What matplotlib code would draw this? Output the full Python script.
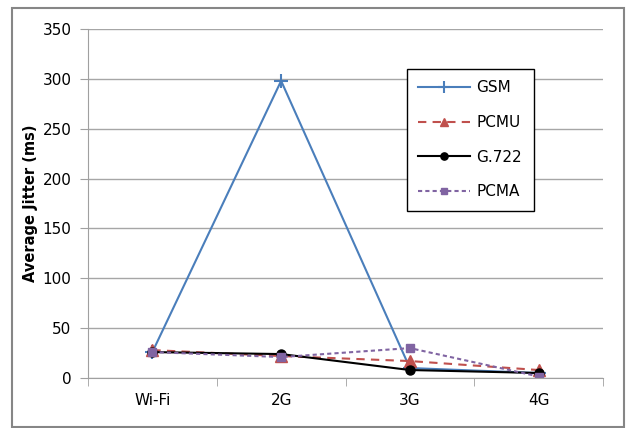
import matplotlib.pyplot as plt
import numpy as np
from matplotlib.patches import Rectangle

networks = ["Wi-Fi", "2G", "3G", "4G"]
gsm = [26, 298, 10, 5]
pcmu = [28, 22, 17, 8]
g722 = [26, 24, 8, 5]
pcma = [26, 21, 30, 1.5]

plt.rcParams['font.family'] = 'DejaVu Sans'

fig = plt.figure(figsize=(6.26, 4.28), dpi=100)
ax = fig.add_axes([88/626, 50/428, 515/626, 349/428])

x = np.arange(len(networks))
ax.plot(x, gsm, color='#4A7EBB', lw=1.5, marker='+', ms=10, mew=1.5, label='GSM')
ax.plot(x, pcmu, color='#C0504D', lw=1.5, ls=(0, (4, 3)), marker='^', ms=8, label='PCMU')
ax.plot(x, g722, color='black', lw=1.5, marker='o', ms=6.5, label='G.722')
ax.plot(x, pcma, color='#8064A2', lw=1.5, ls=(0, (2, 1.5)), marker='s', ms=5.5, label='PCMA')

ax.set_xlim(-0.5, 3.5)
ax.set_ylim(0, 350)
ax.set_yticks(np.arange(0, 351, 50))
ax.set_xticks(x)
ax.set_xticklabels(networks)
ax.set_xticks(np.arange(-0.5, 3.6, 1), minor=True)
ax.tick_params(axis='x', which='major', length=0, pad=11, labelsize=11)
ax.tick_params(axis='x', which='minor', length=6, color='#A0A0A0', direction='out')
ax.tick_params(axis='y', length=6, color='#A0A0A0', labelsize=11, pad=6)
ax.yaxis.grid(True, color='#A6A6A6', lw=1)
ax.set_axisbelow(True)
for s in ['top', 'right']:
    ax.spines[s].set_visible(False)
for s in ['left', 'bottom']:
    ax.spines[s].set_color('#A0A0A0')

ax.set_ylabel("Average Jitter (ms)", fontsize=10.5, fontweight='bold', labelpad=3)

leg = ax.legend(loc='upper left', bbox_to_anchor=(407/626, 1 - 69/428),
                bbox_transform=fig.transFigure, borderaxespad=0, fontsize=11,
                handlelength=3.4, labelspacing=1.28, borderpad=0.75, fancybox=False,
                framealpha=1, edgecolor='black', handletextpad=0.4, markerscale=0.8)
leg.get_frame().set_linewidth(1.0)

fig.patches.append(Rectangle((12/626, 1/428), 612/626, 419/428, transform=fig.transFigure,
                             fill=False, edgecolor='#868686', lw=1.5))

fig.savefig("out.png", dpi=100)
